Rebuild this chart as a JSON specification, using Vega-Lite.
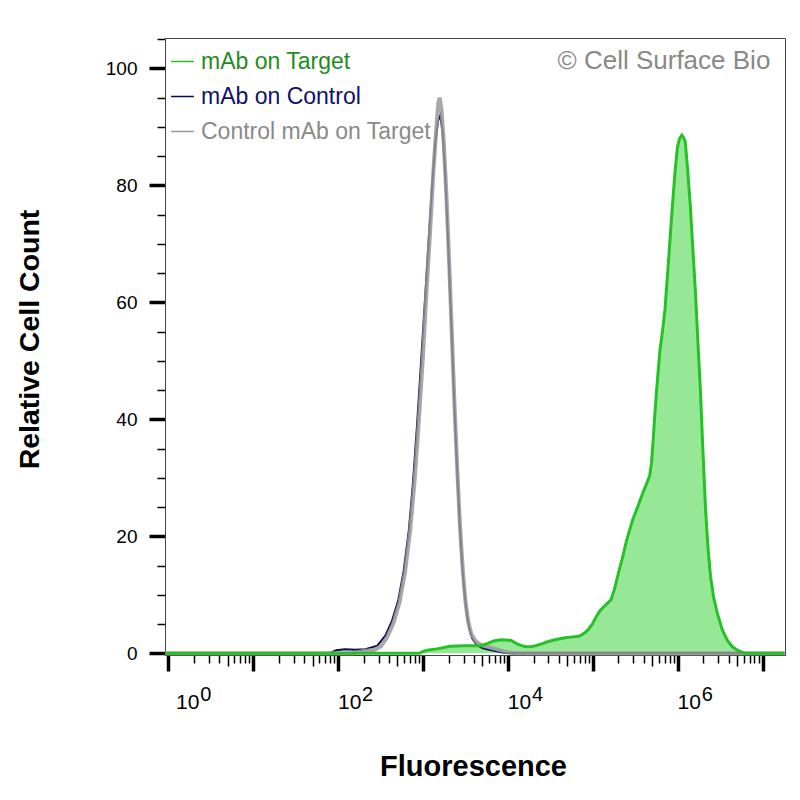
{
  "$schema": "https://vega.github.io/schema/vega-lite/v6.json",
  "autosize": {"type": "none"},
  "width": 620,
  "height": 617,
  "padding": {"left": 165, "top": 38, "right": 15, "bottom": 145},
  "background": "white",
  "config": {"font": "Liberation Sans", "view": {"stroke": "#444444", "strokeWidth": 1}, "axis": {"grid": false}},
  "title": {"text": "© Cell Surface Bio", "anchor": "end", "orient": "top", "offset": -65, "dx": -22, "fontSize": 26, "fontWeight": "normal", "color": "#888888", "baseline": "alphabetic"},
  "datasets": {
    "curves": [
      {"series": "mAb on Control", "fluorescence": 0.92, "count": 0},
      {"series": "mAb on Control", "fluorescence": 80, "count": 0},
      {"series": "mAb on Control", "fluorescence": 95, "count": 0.5},
      {"series": "mAb on Control", "fluorescence": 120, "count": 0.7},
      {"series": "mAb on Control", "fluorescence": 160, "count": 0.6},
      {"series": "mAb on Control", "fluorescence": 210, "count": 0.7},
      {"series": "mAb on Control", "fluorescence": 290, "count": 1.3},
      {"series": "mAb on Control", "fluorescence": 360, "count": 3},
      {"series": "mAb on Control", "fluorescence": 430, "count": 5.5},
      {"series": "mAb on Control", "fluorescence": 510, "count": 9},
      {"series": "mAb on Control", "fluorescence": 590, "count": 14},
      {"series": "mAb on Control", "fluorescence": 680, "count": 21},
      {"series": "mAb on Control", "fluorescence": 760, "count": 29},
      {"series": "mAb on Control", "fluorescence": 850, "count": 39},
      {"series": "mAb on Control", "fluorescence": 950, "count": 50},
      {"series": "mAb on Control", "fluorescence": 1060, "count": 61},
      {"series": "mAb on Control", "fluorescence": 1170, "count": 71},
      {"series": "mAb on Control", "fluorescence": 1280, "count": 80},
      {"series": "mAb on Control", "fluorescence": 1390, "count": 87},
      {"series": "mAb on Control", "fluorescence": 1500, "count": 91},
      {"series": "mAb on Control", "fluorescence": 1600, "count": 92},
      {"series": "mAb on Control", "fluorescence": 1700, "count": 89},
      {"series": "mAb on Control", "fluorescence": 1820, "count": 82},
      {"series": "mAb on Control", "fluorescence": 1950, "count": 72},
      {"series": "mAb on Control", "fluorescence": 2100, "count": 60},
      {"series": "mAb on Control", "fluorescence": 2250, "count": 49},
      {"series": "mAb on Control", "fluorescence": 2420, "count": 37},
      {"series": "mAb on Control", "fluorescence": 2600, "count": 27},
      {"series": "mAb on Control", "fluorescence": 2800, "count": 18},
      {"series": "mAb on Control", "fluorescence": 3000, "count": 12},
      {"series": "mAb on Control", "fluorescence": 3250, "count": 7},
      {"series": "mAb on Control", "fluorescence": 3500, "count": 4.2},
      {"series": "mAb on Control", "fluorescence": 3800, "count": 2.5},
      {"series": "mAb on Control", "fluorescence": 4300, "count": 1.4},
      {"series": "mAb on Control", "fluorescence": 5000, "count": 0.9},
      {"series": "mAb on Control", "fluorescence": 6000, "count": 0.6},
      {"series": "mAb on Control", "fluorescence": 7500, "count": 0.3},
      {"series": "mAb on Control", "fluorescence": 9000, "count": 0.1},
      {"series": "mAb on Control", "fluorescence": 11000, "count": 0},
      {"series": "mAb on Control", "fluorescence": 18000000, "count": 0},
      {"series": "Control mAb on Target", "fluorescence": 0.92, "count": 0},
      {"series": "Control mAb on Target", "fluorescence": 150, "count": 0},
      {"series": "Control mAb on Target", "fluorescence": 200, "count": 0.4},
      {"series": "Control mAb on Target", "fluorescence": 270, "count": 0.6},
      {"series": "Control mAb on Target", "fluorescence": 320, "count": 1.2},
      {"series": "Control mAb on Target", "fluorescence": 380, "count": 2.8},
      {"series": "Control mAb on Target", "fluorescence": 450, "count": 5.2},
      {"series": "Control mAb on Target", "fluorescence": 530, "count": 8.8},
      {"series": "Control mAb on Target", "fluorescence": 615, "count": 14},
      {"series": "Control mAb on Target", "fluorescence": 705, "count": 21},
      {"series": "Control mAb on Target", "fluorescence": 790, "count": 29},
      {"series": "Control mAb on Target", "fluorescence": 885, "count": 39},
      {"series": "Control mAb on Target", "fluorescence": 990, "count": 50},
      {"series": "Control mAb on Target", "fluorescence": 1100, "count": 62},
      {"series": "Control mAb on Target", "fluorescence": 1210, "count": 72},
      {"series": "Control mAb on Target", "fluorescence": 1320, "count": 82},
      {"series": "Control mAb on Target", "fluorescence": 1420, "count": 89},
      {"series": "Control mAb on Target", "fluorescence": 1510, "count": 94},
      {"series": "Control mAb on Target", "fluorescence": 1570, "count": 95},
      {"series": "Control mAb on Target", "fluorescence": 1650, "count": 93},
      {"series": "Control mAb on Target", "fluorescence": 1760, "count": 87},
      {"series": "Control mAb on Target", "fluorescence": 1890, "count": 78},
      {"series": "Control mAb on Target", "fluorescence": 2030, "count": 67},
      {"series": "Control mAb on Target", "fluorescence": 2180, "count": 55},
      {"series": "Control mAb on Target", "fluorescence": 2340, "count": 43},
      {"series": "Control mAb on Target", "fluorescence": 2520, "count": 32},
      {"series": "Control mAb on Target", "fluorescence": 2720, "count": 22},
      {"series": "Control mAb on Target", "fluorescence": 2930, "count": 14.5},
      {"series": "Control mAb on Target", "fluorescence": 3150, "count": 9},
      {"series": "Control mAb on Target", "fluorescence": 3400, "count": 5.5},
      {"series": "Control mAb on Target", "fluorescence": 3700, "count": 3.3},
      {"series": "Control mAb on Target", "fluorescence": 4200, "count": 2},
      {"series": "Control mAb on Target", "fluorescence": 5000, "count": 1.3},
      {"series": "Control mAb on Target", "fluorescence": 6000, "count": 1},
      {"series": "Control mAb on Target", "fluorescence": 7200, "count": 0.7},
      {"series": "Control mAb on Target", "fluorescence": 8500, "count": 0.4},
      {"series": "Control mAb on Target", "fluorescence": 10000, "count": 0.15},
      {"series": "Control mAb on Target", "fluorescence": 12000, "count": 0},
      {"series": "Control mAb on Target", "fluorescence": 18000000, "count": 0},
      {"series": "mAb on Target", "fluorescence": 0.92, "count": 0},
      {"series": "mAb on Target", "fluorescence": 900, "count": 0},
      {"series": "mAb on Target", "fluorescence": 1000, "count": 0.3},
      {"series": "mAb on Target", "fluorescence": 1120, "count": 0.5},
      {"series": "mAb on Target", "fluorescence": 1460, "count": 0.75},
      {"series": "mAb on Target", "fluorescence": 2100, "count": 1.2},
      {"series": "mAb on Target", "fluorescence": 3000, "count": 1.3},
      {"series": "mAb on Target", "fluorescence": 4000, "count": 1.3},
      {"series": "mAb on Target", "fluorescence": 4800, "count": 1.3},
      {"series": "mAb on Target", "fluorescence": 5770, "count": 1.7},
      {"series": "mAb on Target", "fluorescence": 6800, "count": 2.1},
      {"series": "mAb on Target", "fluorescence": 8300, "count": 2.3},
      {"series": "mAb on Target", "fluorescence": 10900, "count": 2.2},
      {"series": "mAb on Target", "fluorescence": 12500, "count": 1.7},
      {"series": "mAb on Target", "fluorescence": 14400, "count": 1.3},
      {"series": "mAb on Target", "fluorescence": 16500, "count": 1.1},
      {"series": "mAb on Target", "fluorescence": 19000, "count": 1.15},
      {"series": "mAb on Target", "fluorescence": 21500, "count": 1.3},
      {"series": "mAb on Target", "fluorescence": 24900, "count": 1.6},
      {"series": "mAb on Target", "fluorescence": 30000, "count": 2.0},
      {"series": "mAb on Target", "fluorescence": 35900, "count": 2.3},
      {"series": "mAb on Target", "fluorescence": 47000, "count": 2.65},
      {"series": "mAb on Target", "fluorescence": 58000, "count": 2.8},
      {"series": "mAb on Target", "fluorescence": 68400, "count": 2.9},
      {"series": "mAb on Target", "fluorescence": 75000, "count": 3.2},
      {"series": "mAb on Target", "fluorescence": 82000, "count": 3.6},
      {"series": "mAb on Target", "fluorescence": 90000, "count": 4.2},
      {"series": "mAb on Target", "fluorescence": 98600, "count": 5},
      {"series": "mAb on Target", "fluorescence": 110000, "count": 6.3},
      {"series": "mAb on Target", "fluorescence": 122000, "count": 7.3},
      {"series": "mAb on Target", "fluorescence": 135500, "count": 8},
      {"series": "mAb on Target", "fluorescence": 150000, "count": 8.6},
      {"series": "mAb on Target", "fluorescence": 163300, "count": 9.1},
      {"series": "mAb on Target", "fluorescence": 180000, "count": 11},
      {"series": "mAb on Target", "fluorescence": 205000, "count": 14.3},
      {"series": "mAb on Target", "fluorescence": 225000, "count": 16.5},
      {"series": "mAb on Target", "fluorescence": 246000, "count": 18.9},
      {"series": "mAb on Target", "fluorescence": 270000, "count": 21},
      {"series": "mAb on Target", "fluorescence": 296000, "count": 22.9},
      {"series": "mAb on Target", "fluorescence": 337000, "count": 25},
      {"series": "mAb on Target", "fluorescence": 390000, "count": 27.5},
      {"series": "mAb on Target", "fluorescence": 430000, "count": 29},
      {"series": "mAb on Target", "fluorescence": 468000, "count": 30.4},
      {"series": "mAb on Target", "fluorescence": 490000, "count": 32.5},
      {"series": "mAb on Target", "fluorescence": 512000, "count": 36.2},
      {"series": "mAb on Target", "fluorescence": 535000, "count": 40.5},
      {"series": "mAb on Target", "fluorescence": 562000, "count": 44.8},
      {"series": "mAb on Target", "fluorescence": 590000, "count": 48.5},
      {"series": "mAb on Target", "fluorescence": 617000, "count": 51.8},
      {"series": "mAb on Target", "fluorescence": 660000, "count": 55},
      {"series": "mAb on Target", "fluorescence": 706000, "count": 58.7},
      {"series": "mAb on Target", "fluorescence": 760000, "count": 65},
      {"series": "mAb on Target", "fluorescence": 811000, "count": 70.8},
      {"series": "mAb on Target", "fluorescence": 870000, "count": 77},
      {"series": "mAb on Target", "fluorescence": 929000, "count": 82.3},
      {"series": "mAb on Target", "fluorescence": 990000, "count": 86.5},
      {"series": "mAb on Target", "fluorescence": 1050000, "count": 88},
      {"series": "mAb on Target", "fluorescence": 1117000, "count": 88.6},
      {"series": "mAb on Target", "fluorescence": 1170000, "count": 88.2},
      {"series": "mAb on Target", "fluorescence": 1225000, "count": 87.5},
      {"series": "mAb on Target", "fluorescence": 1310000, "count": 82.5},
      {"series": "mAb on Target", "fluorescence": 1406000, "count": 76.5},
      {"series": "mAb on Target", "fluorescence": 1500000, "count": 69.5},
      {"series": "mAb on Target", "fluorescence": 1611000, "count": 62},
      {"series": "mAb on Target", "fluorescence": 1730000, "count": 53},
      {"series": "mAb on Target", "fluorescence": 1849000, "count": 44.8},
      {"series": "mAb on Target", "fluorescence": 1980000, "count": 34.5},
      {"series": "mAb on Target", "fluorescence": 2124000, "count": 24.7},
      {"series": "mAb on Target", "fluorescence": 2270000, "count": 18},
      {"series": "mAb on Target", "fluorescence": 2432000, "count": 13.1},
      {"series": "mAb on Target", "fluorescence": 2650000, "count": 9.5},
      {"series": "mAb on Target", "fluorescence": 2924000, "count": 6.8},
      {"series": "mAb on Target", "fluorescence": 3350000, "count": 4},
      {"series": "mAb on Target", "fluorescence": 3846000, "count": 2.2},
      {"series": "mAb on Target", "fluorescence": 4400000, "count": 1.1},
      {"series": "mAb on Target", "fluorescence": 5070000, "count": 0.5},
      {"series": "mAb on Target", "fluorescence": 6085000, "count": 0},
      {"series": "mAb on Target", "fluorescence": 18000000, "count": 0}
    ]
  },
  "data": {"name": "curves"},
  "encoding": {
    "x": {"field": "fluorescence", "type": "quantitative", "scale": {"type": "log", "domain": [0.9145, 18320000], "nice": false}, "axis": null},
    "y": {"field": "count", "type": "quantitative", "scale": {"domain": [-0.3, 105.2], "nice": false, "zero": false},
      "axis": {
        "values": [0,5,10,15,20,25,30,35,40,45,50,55,60,65,70,75,80,85,90,95,100,105],
        "labelExpr": "datum.value % 20 === 0 ? datum.label : ''",
        "labelFontSize": 19, "labelPadding": 12, "labelColor": "black", "labelOverlap": false,
        "tickColor": "black",
        "tickSize": {"condition": {"test": "datum.value % 20 === 0", "value": 16}, "value": 8},
        "tickWidth": {"condition": {"test": "datum.value % 20 === 0", "value": 3.5}, "value": 1.5},
        "domainColor": "#444444", "domainWidth": 1,
        "title": "Relative Cell Count", "titleFontSize": 28.5, "titleFontWeight": "bold", "titleColor": "black",
        "titleX": -127, "titleY": 301, "titleAngle": -90, "titleAlign": "center", "titleBaseline": "alphabetic",
        "grid": false
      }
    }
  },
  "layer": [
    {
      "transform": [{"filter": "datum.series === 'mAb on Target'"}],
      "mark": {"type": "area", "fill": "#96e896", "opacity": 1},
      "encoding": {
        "x": {"field": "fluorescence", "type": "quantitative", "scale": {"type": "log", "domain": [0.9145, 18320000], "nice": false},
          "axis": {
            "orient": "bottom", "values": [1, 100, 10000, 1000000],
            "labelExpr": "datum.value === 1 ? '0' : datum.value === 100 ? '2' : datum.value === 10000 ? '4' : '6'",
            "labelFontSize": 20, "labelBaseline": "alphabetic", "labelColor": "black",
            "ticks": false, "tickSize": 0, "domain": false, "labelPadding": 45,
            "labelOffset": {"condition": {"test": "datum.value === 1", "value": 37}, "value": 29},
            "labelOverlap": false, "labelFlush": false, "labelBound": false,
            "title": null, "grid": false
          }
        }
      }
    },
    {
      "transform": [{"filter": "datum.series === 'mAb on Control'"}],
      "mark": {"type": "line", "strokeWidth": 2},
      "encoding": {
        "color": {"field": "series", "type": "nominal",
          "scale": {"domain": ["mAb on Target", "mAb on Control", "Control mAb on Target"], "range": ["#25c225", "#0b0b55", "#999999"]},
          "legend": {
            "orient": "none", "legendX": 5, "legendY": 11, "title": null, "direction": "vertical",
            "symbolType": "stroke", "symbolSize": 520, "symbolStrokeWidth": 1.5,
            "labelFontSize": 23, "labelOffset": 6, "rowPadding": 10, "padding": 0, "labelLimit": 400,
            "encode": {
              "labels": {"update": {"fill": {"signal": "datum.value === 'mAb on Target' ? '#1f8c1f' : datum.value === 'mAb on Control' ? '#10106e' : '#8a8a8a'"}}},
              "symbols": {"update": {"stroke": {"signal": "datum.value === 'mAb on Target' ? '#1f8c1f' : datum.value === 'mAb on Control' ? '#10106e' : '#8a8a8a'"}}}
            }
          }
        }
      }
    },
    {
      "transform": [{"filter": "datum.series === 'Control mAb on Target'"}],
      "mark": {"type": "line", "strokeWidth": 4, "opacity": 0.85},
      "encoding": {
        "color": {"field": "series", "type": "nominal",
          "scale": {"domain": ["mAb on Target", "mAb on Control", "Control mAb on Target"], "range": ["#25c225", "#0b0b55", "#999999"]}}
      }
    },
    {
      "transform": [{"filter": "datum.series === 'mAb on Target'"}],
      "mark": {"type": "line", "strokeWidth": 3, "interpolate": "linear"},
      "encoding": {
        "x": {"field": "fluorescence", "type": "quantitative", "scale": {"type": "log", "domain": [0.9145, 18320000], "nice": false},
          "axis": {
            "orient": "bottom",
            "values": [1,2,3,4,5,6,7,8,9,10,20,30,40,50,60,70,80,90,100,200,300,400,500,600,700,800,900,1000,2000,3000,4000,5000,6000,7000,8000,9000,10000,20000,30000,40000,50000,60000,70000,80000,90000,100000,200000,300000,400000,500000,600000,700000,800000,900000,1000000,2000000,3000000,4000000,5000000,6000000,7000000,8000000,9000000,10000000],
            "labelExpr": "indexof([1,100,10000,1000000], datum.value) >= 0 ? '10' : ''",
            "labelFontSize": 21, "labelBaseline": "alphabetic", "labelPadding": 37, "labelColor": "black",
            "labelOffset": {"condition": {"test": "datum.value === 1", "value": 19}, "value": 11},
            "labelOverlap": false, "labelFlush": false, "labelBound": false,
            "tickColor": "black",
            "tickSize": {"condition": [{"test": "indexof([1,10,100,1000,10000,100000,1000000,10000000], datum.value) >= 0", "value": 16}, {"test": "indexof([5,50,500,5000,50000,500000,5000000], datum.value) >= 0", "value": 11}], "value": 8},
            "tickWidth": {"condition": {"test": "indexof([1,10,100,1000,10000,100000,1000000,10000000], datum.value) >= 0", "value": 3.5}, "value": 1.5},
            "domainColor": "#444444",
            "title": "Fluorescence", "titleFontSize": 29, "titleFontWeight": "bold", "titleColor": "black",
            "titleBaseline": "alphabetic", "titleY": 120, "titleX": 308, "titleAlign": "center",
            "grid": false
          }
        },
        "color": {"field": "series", "type": "nominal",
          "scale": {"domain": ["mAb on Target", "mAb on Control", "Control mAb on Target"], "range": ["#25c225", "#0b0b55", "#999999"]}}
      }
    }
  ],
  "resolve": {"axis": {"x": "independent"}}
}
